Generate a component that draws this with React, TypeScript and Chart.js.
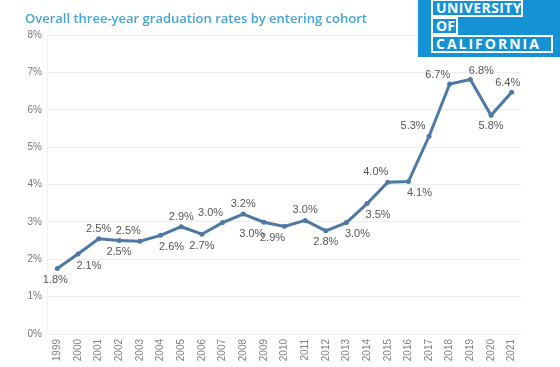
import React, { useEffect, useRef } from "react";
import { Chart, registerables } from "chart.js";

Chart.register(...registerables);

const years = ["1999","2000","2001","2002","2003","2004","2005","2006","2007","2008","2009","2010","2011","2012","2013","2014","2015","2016","2017","2018","2019","2020","2021"];
const rates = [1.75, 2.14, 2.55, 2.5, 2.48, 2.64, 2.87, 2.67, 2.98, 3.21, 2.99, 2.88, 3.04, 2.76, 2.98, 3.49, 4.06, 4.08, 5.29, 6.69, 6.81, 5.85, 6.47];
const rateLabels = ["1.8%","2.1%","2.5%","2.5%","2.5%","2.6%","2.9%","2.7%","3.0%","3.2%","3.0%","2.9%","3.0%","2.8%","3.0%","3.5%","4.0%","4.1%","5.3%","6.7%","6.8%","5.8%","6.4%"];
const yTicks = [0, 1, 2, 3, 4, 5, 6, 7, 8];

// label placement offsets (style only)
const labelOffsets: [number, number][] = [
  [-2, 11], [11, 12], [0, -10], [9, -10], [-21, 11], [11, 12], [0, -10], [0, 12],
  [-12, -10], [0, -10], [-12, 12], [-12, 12], [0, -10], [0, 11], [11, 11], [11, 11],
  [-12, -10], [11, 11], [-16, -10], [-12, -9], [11, -9], [0, 11], [-4, -9],
];

const valueLabelPlugin = {
  id: "valueLabels",
  afterDatasetsDraw(chart: any) {
    const ctx = chart.ctx;
    const meta = chart.getDatasetMeta(0);
    ctx.save();
    ctx.font = "11px 'Liberation Sans', Arial, sans-serif";
    ctx.fillStyle = "#555";
    ctx.textAlign = "center";
    ctx.textBaseline = "middle";
    meta.data.forEach((pt: any, i: number) => {
      const [dx, dy] = labelOffsets[i] || [0, -10];
      ctx.fillText(rateLabels[i], pt.x + dx, pt.y + dy);
    });
    ctx.restore();
  },
};

export default function App() {
  const ref = useRef<HTMLCanvasElement | null>(null);
  useEffect(() => {
    if (!ref.current) return;
    const chart = new Chart(ref.current, {
      type: "line",
      data: {
        labels: years,
        datasets: [
          {
            data: rates,
            borderColor: "#4e79a7",
            backgroundColor: "#4e79a7",
            borderWidth: 3,
            pointRadius: 2.5,
            pointBorderWidth: 0,
            tension: 0,
          },
        ],
      },
      options: {
        animation: false,
        responsive: false,
        maintainAspectRatio: false,
        layout: { padding: { top: 35, right: 38, left: 0, bottom: 0 } },
        plugins: { legend: { display: false }, title: { display: false }, tooltip: { enabled: false } },
        scales: {
          x: {
            offset: true,
            grid: { display: false, drawTicks: false },
            border: { display: false },
            ticks: {
              minRotation: 90,
              maxRotation: 90,
              autoSkip: false,
              padding: 5,
              color: "#808080",
              font: { size: 10, family: "'Liberation Sans', Arial, sans-serif" },
            },
            afterFit(scale: any) { scale.height = 33; },
          },
          y: {
            min: 0,
            max: 8,
            afterBuildTicks(scale: any) { scale.ticks = yTicks.map((v) => ({ value: v })); },
            grid: { color: "#eeeeee", drawTicks: false, lineWidth: 1 },
            border: { display: true, color: "#f2f2f2" },
            ticks: {
              padding: 5,
              color: "#777",
              font: { size: 10, family: "'Liberation Sans', Arial, sans-serif" },
              callback: (v: any) => v + "%",
            },
            afterFit(scale: any) { scale.width = 47; },
          },
        },
      },
      plugins: [valueLabelPlugin],
    });
    return () => chart.destroy();
  }, []);

  const boxStyle: React.CSSProperties = {
    position: "absolute",
    left: 13,
    border: "2px solid #fff",
    color: "#fff",
    fontFamily: "'Open Sans', sans-serif",
    fontWeight: 700,
    fontSize: 14,
    lineHeight: "14px",
    padding: "0 0 0 3px",
    boxSizing: "border-box",
    height: 18,
    whiteSpace: "nowrap",
    overflow: "hidden",
  };

  return (
    <div style={{ position: "fixed", left: 0, top: 0, width: 560, height: 367, background: "#fff", overflow: "hidden" }}>
      <canvas ref={ref} width={560} height={367} style={{ position: "absolute", left: 0, top: 0 }} />
      <div
        style={{
          position: "absolute",
          left: 25,
          top: 9,
          fontFamily: "'Open Sans', sans-serif",
          fontWeight: 600,
          fontSize: 13,
          color: "#45a5d6",
          whiteSpace: "nowrap",
        }}
      >
        Overall three-year graduation rates by entering cohort
      </div>
      <div style={{ position: "absolute", left: 418, top: 0, width: 142, height: 57, background: "#1592d6" }}>
        <div style={{ ...boxStyle, top: -1, width: 92, letterSpacing: 0.4 }}>UNIVERSITY</div>
        <div style={{ ...boxStyle, top: 17, width: 27, letterSpacing: 0 }}>OF</div>
        <div style={{ ...boxStyle, top: 35, width: 122, letterSpacing: 2 }}>CALIFORNIA</div>
      </div>
    </div>
  );
}
